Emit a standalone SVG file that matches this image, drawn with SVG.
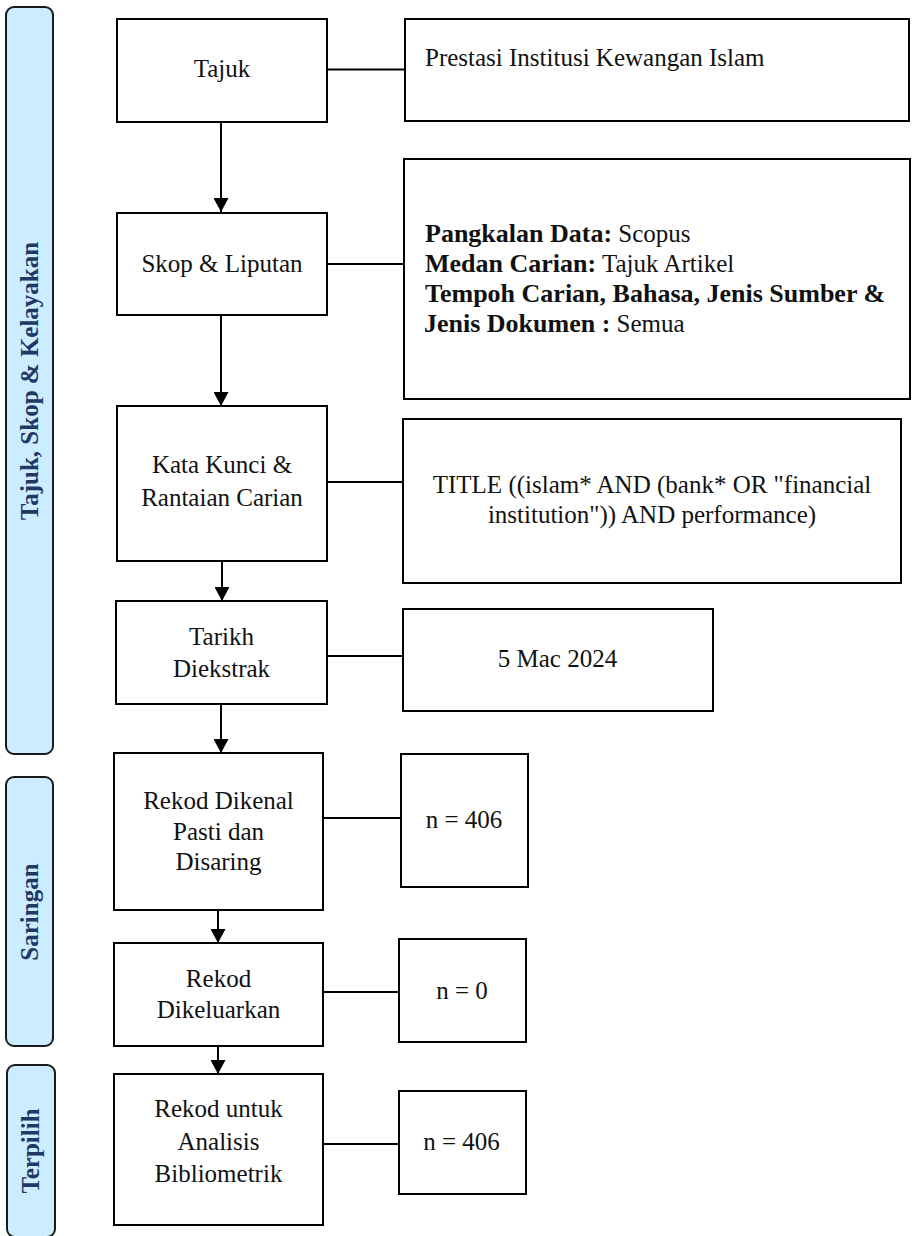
<svg xmlns="http://www.w3.org/2000/svg" width="915" height="1236" viewBox="0 0 915 1236">
<style>
.box{fill:#fff;stroke:#000;stroke-width:2}
.side{fill:#CCECFF;stroke:#1a1a1a;stroke-width:2}
text{font-family:'Liberation Serif','DejaVu Serif',serif}
.t{font-size:25px;font-weight:400;fill:#111}
.c{text-anchor:middle}
.b{font-weight:700;font-size:26px}
.st{font-size:25px;font-weight:700;fill:#1F3864;text-anchor:middle}
.ln{stroke:#000;stroke-width:2;fill:none}
</style>
<defs>
<marker id="ah" markerUnits="userSpaceOnUse" viewBox="0 0 14 15" markerWidth="14" markerHeight="15" refX="14" refY="7.5" orient="auto">
<path d="M0,0 L14,7.5 L0,15 z" fill="#000"/>
</marker>
</defs>
<g id="sidebar-tajuk">
<rect class="side" x="6" y="7" width="47" height="747" rx="8"/>
<text class="st" transform="translate(38,381) rotate(-90)">Tajuk, Skop &amp; Kelayakan</text>
</g>
<g id="sidebar-saringan">
<rect class="side" x="6" y="777" width="47" height="269" rx="8"/>
<text class="st" transform="translate(38,912) rotate(-90)">Saringan</text>
</g>
<g id="sidebar-terpilih">
<rect class="side" x="7" y="1065" width="48" height="172" rx="8"/>
<text class="st" transform="translate(39,1151) rotate(-90)">Terpilih</text>
</g>
<g id="connectors">
<line class="ln" x1="221" y1="122" x2="221" y2="212" marker-end="url(#ah)"/>
<line class="ln" x1="221" y1="315" x2="221" y2="406" marker-end="url(#ah)"/>
<line class="ln" x1="222" y1="561" x2="222" y2="601" marker-end="url(#ah)"/>
<line class="ln" x1="221" y1="700" x2="221" y2="753" marker-end="url(#ah)"/>
<line class="ln" x1="218" y1="910" x2="218" y2="943" marker-end="url(#ah)"/>
<line class="ln" x1="218" y1="1046" x2="218" y2="1074" marker-end="url(#ah)"/>
<line class="ln" x1="327" y1="69.5" x2="405" y2="69.5"/>
<line class="ln" x1="327" y1="264" x2="404" y2="264"/>
<line class="ln" x1="327" y1="482" x2="403" y2="482"/>
<line class="ln" x1="327" y1="656" x2="403" y2="656"/>
<line class="ln" x1="323" y1="818" x2="401" y2="818"/>
<line class="ln" x1="321" y1="992" x2="399" y2="992"/>
<line class="ln" x1="321" y1="1144" x2="399" y2="1144"/>
</g>
<g id="tajuk">
<rect class="box" x="117" y="19" width="210" height="103"/>
<text class="t c" x="222" y="77">Tajuk</text>
</g>
<g id="tajuk-detail">
<rect class="box" x="405" y="19" width="504" height="102"/>
<text class="t" x="425" y="66">Prestasi Institusi Kewangan Islam</text>
</g>
<g id="skop">
<rect class="box" x="117" y="213" width="210" height="102"/>
<text class="t c" x="222" y="272">Skop &amp; Liputan</text>
</g>
<g id="skop-detail">
<rect class="box" x="404" y="159" width="506" height="240"/>
<text class="t" x="425" y="242"><tspan class="b">Pangkalan Data:</tspan> Scopus</text>
<text class="t" x="425" y="272"><tspan class="b">Medan Carian:</tspan> Tajuk Artikel</text>
<text class="t b" x="425" y="302">Tempoh Carian, Bahasa, Jenis Sumber &amp;</text>
<text class="t" x="424" y="332"><tspan class="b">Jenis Dokumen :</tspan> Semua</text>
</g>
<g id="katakunci">
<rect class="box" x="117" y="406" width="210" height="155"/>
<text class="t c" x="222" y="473">Kata Kunci &amp;</text>
<text class="t c" x="222" y="506">Rantaian Carian</text>
</g>
<g id="katakunci-detail">
<rect class="box" x="403" y="419" width="498" height="164"/>
<text class="t c" x="652" y="493">TITLE ((islam* AND (bank* OR "financial</text>
<text class="t c" x="652" y="523">institution")) AND performance)</text>
</g>
<g id="tarikh">
<rect class="box" x="116" y="601" width="211" height="103"/>
<text class="t c" x="221.5" y="645">Tarikh</text>
<text class="t c" x="221.5" y="677">Diekstrak</text>
</g>
<g id="tarikh-detail">
<rect class="box" x="403" y="609" width="310" height="102"/>
<text class="t c" x="557.5" y="667">5 Mac 2024</text>
</g>
<g id="dikenal">
<rect class="box" x="114" y="753" width="209" height="157"/>
<text class="t c" x="218.5" y="809">Rekod Dikenal</text>
<text class="t c" x="218.5" y="840">Pasti dan</text>
<text class="t c" x="218.5" y="870">Disaring</text>
</g>
<g id="dikenal-n">
<rect class="box" x="401" y="754" width="127" height="133"/>
<text class="t c" x="464" y="828">n = 406</text>
</g>
<g id="dikeluarkan">
<rect class="box" x="114" y="943" width="209" height="103"/>
<text class="t c" x="218.5" y="987">Rekod</text>
<text class="t c" x="218.5" y="1018">Dikeluarkan</text>
</g>
<g id="dikeluarkan-n">
<rect class="box" x="399" y="939" width="127" height="103"/>
<text class="t c" x="462" y="999">n = 0</text>
</g>
<g id="terpilih">
<rect class="box" x="114" y="1074" width="209" height="151"/>
<text class="t c" x="218.5" y="1117">Rekod untuk</text>
<text class="t c" x="218.5" y="1150">Analisis</text>
<text class="t c" x="218.5" y="1182">Bibliometrik</text>
</g>
<g id="terpilih-n">
<rect class="box" x="399" y="1091" width="127" height="103"/>
<text class="t c" x="461.5" y="1150">n = 406</text>
</g>
</svg>
